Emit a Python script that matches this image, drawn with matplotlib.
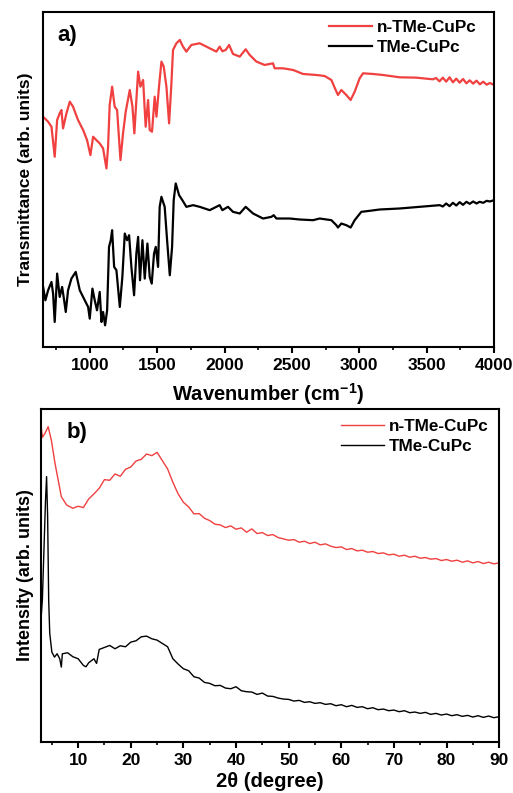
import matplotlib.pyplot as plt
import numpy as np

plt.rcParams['font.family'] = ['Liberation Sans', 'DejaVu Sans']
plt.rcParams['font.weight'] = 'bold'
plt.rcParams['mathtext.fontset'] = 'custom'
plt.rcParams['mathtext.bf'] = 'Liberation Sans:bold'
plt.rcParams['mathtext.rm'] = 'Liberation Sans:bold'
plt.rcParams['mathtext.default'] = 'bf'

RED = '#F04040'

# ---- a) FTIR ----------------------------------------------------------------
ir_red_wn = [654, 691, 716, 740, 758, 777, 790, 802, 827, 852, 876, 913, 951, 980,
             1005, 1025, 1049, 1074, 1099, 1124, 1136, 1148, 1166, 1185, 1203, 1228,
             1247, 1267, 1297, 1317, 1331, 1346, 1359, 1376, 1396, 1415, 1433, 1445,
             1462, 1482, 1495, 1514, 1532, 1549, 1569, 1589, 1606, 1618, 1643, 1668,
             1692, 1717, 1754, 1816, 1890, 1940, 1964, 1984, 2009, 2034, 2063, 2113,
             2157, 2187, 2237, 2298, 2360, 2372, 2434, 2509, 2583, 2682, 2743, 2793,
             2825, 2842, 2867, 2904, 2936, 2966, 3003, 3028, 3102, 3176, 3300, 3423,
             3547, 3570, 3595, 3620, 3645, 3670, 3695, 3720, 3745, 3770, 3795, 3820,
             3845, 3870, 3895, 3920, 3945, 3970, 4000]
ir_red_t = [69.0, 67.5, 66.0, 57.0, 68.0, 70.0, 71.0, 65.5, 70.0, 73.5, 72.0, 68.0, 65.0, 62.0,
            57.5, 63.0, 62.0, 61.0, 59.5, 53.5, 60.0, 72.5, 78.0, 72.0, 71.0, 56.0,
            64.0, 70.5, 77.0, 72.0, 64.0, 74.0, 82.5, 78.0, 80.0, 66.0, 74.0, 65.0,
            64.5, 75.0, 69.0, 78.0, 85.5, 84.0, 78.0, 67.0, 79.0, 89.0, 91.0, 92.0,
            90.0, 88.5, 90.5, 91.0, 89.5, 88.5, 90.0, 88.6, 89.0, 90.5, 87.8, 87.0,
            89.2, 87.5, 85.5, 84.5, 85.0, 83.5, 83.5, 83.0, 81.8, 81.5, 81.2, 80.0,
            77.0, 75.5, 77.0, 75.5, 74.0, 76.5, 80.5, 82.0, 81.8, 81.5, 80.8, 80.7,
            80.2, 80.6, 79.6, 80.7, 79.5, 80.8, 79.3, 80.4, 79.2, 80.3, 79.0, 79.9,
            78.9, 79.8, 78.7, 79.5, 78.6, 79.1, 78.5]

ir_blk_wn = [654, 671, 691, 716, 728, 740, 758, 777, 795, 810, 822, 839, 864, 896, 926,
             963, 988, 1000, 1020, 1037, 1054, 1074, 1087, 1099, 1114, 1129, 1143, 1156,
             1166, 1181, 1198, 1223, 1242, 1260, 1277, 1292, 1309, 1329, 1346, 1359,
             1373, 1391, 1408, 1428, 1445, 1460, 1477, 1490, 1507, 1519, 1532, 1556,
             1574, 1594, 1611, 1623, 1638, 1663, 1687, 1717, 1767, 1816, 1890, 1964,
             1984, 2026, 2063, 2113, 2157, 2212, 2286, 2348, 2365, 2385, 2484, 2558,
             2657, 2706, 2793, 2830, 2842, 2867, 2904, 2936, 2966, 3015, 3077, 3151,
             3300, 3448, 3597, 3620, 3645, 3670, 3695, 3720, 3745, 3770, 3795, 3820,
             3845, 3870, 3893, 3920, 3945, 3970, 4000]
ir_blk_t = [18.0, 14.0, 17.0, 19.5, 16.0, 7.5, 22.0, 15.0, 18.0, 14.0, 10.5, 17.0, 20.5, 22.5, 17.0,
            14.0, 12.0, 8.5, 17.5, 14.0, 11.0, 16.5, 7.5, 10.5, 6.5, 11.0, 30.0, 32.0,
            35.0, 24.0, 23.0, 12.0, 21.0, 34.0, 32.0, 33.5, 24.0, 15.5, 28.0, 33.0,
            20.0, 32.0, 20.5, 31.0, 21.0, 19.0, 28.0, 30.0, 24.0, 42.0, 45.0, 42.0,
            32.0, 21.5, 30.0, 44.0, 49.0, 45.5, 44.0, 42.0, 42.5, 42.0, 41.0, 42.5,
            41.0, 42.0, 40.5, 40.0, 42.0, 40.0, 38.5, 39.0, 39.5, 38.5, 38.5, 38.2,
            38.0, 38.5, 38.0, 36.5, 35.8, 37.0, 36.5, 35.8, 38.0, 40.5, 40.8, 41.2,
            41.5, 42.0, 42.5, 42.1, 43.0, 42.2, 43.2, 42.4, 43.4, 42.6, 43.5, 42.9,
            43.6, 43.0, 43.5, 43.2, 43.8, 43.6, 44.0]

# ---- b) XRD -----------------------------------------------------------------
xrd_red_2t = [2.9, 3.2, 3.7, 4.3, 4.9, 5.6, 6.2, 6.8, 7.8, 8, 9, 10, 11, 12, 13, 14, 15,
              16, 17, 18, 19, 20, 21, 22, 23, 24, 25, 26, 27, 28, 29, 30, 31, 32, 33,
              34, 35, 36, 37, 38, 39, 40, 41, 42, 43, 44, 45, 46, 47, 48, 49, 50, 51,
              52, 53, 54, 55, 56, 57, 58, 59, 60, 61, 62, 63, 64, 65, 66, 67, 68, 69,
              70, 71, 72, 73, 74, 75, 76, 77, 78, 79, 80, 81, 82, 83, 84, 85, 86, 87,
              88, 89, 90]
xrd_red_i = [96.0, 91.5, 92.7, 94.7, 90.7, 83.7, 78.7, 73.7, 71.2, 71.0, 70.2, 70.8, 70.4,
             73.0, 74.5, 76.2, 78.8, 78.6, 80.5, 79.8, 81.9, 82.6, 84.4, 84.9, 86.5, 86.0,
             87.0, 84.5, 82.0, 78.0, 74.5, 72.0, 70.6, 68.5, 68.6, 67.2, 66.5, 65.4, 65.2,
             64.4, 64.9, 63.9, 64.3, 63.0, 64.0, 62.6, 62.9, 62.0, 62.3, 61.4, 61.0, 60.6,
             60.8, 60.0, 60.3, 59.6, 60.0, 59.2, 59.5, 58.8, 58.4, 58.6, 57.8, 58.1, 57.4,
             57.6, 57.0, 57.2, 56.6, 56.8, 56.2, 56.4, 55.8, 56.1, 55.5, 55.8, 55.2, 55.4,
             54.9, 55.1, 54.5, 54.8, 54.3, 54.6, 54.0, 54.4, 53.8, 54.2, 53.6, 54.0, 53.5,
             53.8]

xrd_blk_2t = [2.85, 3.2, 3.5, 3.8, 4.0, 4.2, 4.4, 4.6, 5.0, 5.5, 6.0, 6.5, 6.8, 7, 8, 9,
              10, 11, 11.5, 12, 13, 13.5, 14, 15, 16, 17, 18, 19, 20, 21, 22, 23, 24, 25,
              26, 27, 28, 29, 30, 31, 32, 33, 34, 35, 36, 37, 38, 39, 40, 41, 42, 43, 44,
              45, 46, 47, 48, 49, 50, 51, 52, 53, 54, 55, 56, 57, 58, 59, 60, 61, 62, 63,
              64, 65, 66, 67, 68, 69, 70, 71, 72, 73, 74, 75, 76, 77, 78, 79, 80, 81, 82,
              83, 84, 85, 86, 87, 88, 89, 90]
xrd_blk_i = [34.7, 42.7, 57.7, 72.7, 79.7, 67.7, 42.7, 32.7, 27.0, 25.5, 26.5, 25.0, 22.5,
             26.5, 26.8, 25.6, 25.0, 23.0, 22.6, 23.8, 25.0, 23.6, 27.8, 28.4, 29.0, 28.0,
             28.9, 28.6, 30.0, 30.4, 31.6, 31.8, 31.0, 30.6, 29.6, 28.6, 25.0, 23.4, 22.0,
             21.4, 19.6, 19.2, 17.9, 17.6, 16.9, 17.0, 16.2, 16.0, 16.6, 15.4, 15.1, 15.0,
             14.3, 14.7, 13.8, 13.7, 13.2, 12.9, 12.8, 12.3, 12.5, 11.9, 12.1, 11.6, 11.8,
             11.3, 11.5, 10.9, 11.2, 10.6, 11.0, 10.4, 10.6, 10.0, 10.3, 9.7, 9.9, 9.4,
             9.6, 9.1, 9.4, 8.8, 9.0, 8.6, 8.9, 8.3, 8.6, 8.1, 8.4, 7.9, 8.2, 7.7, 8.0,
             7.5, 7.9, 7.4, 7.8, 7.3, 7.6]

fig = plt.figure(figsize=(5.13, 7.93), dpi=100)
ax1 = fig.add_axes([0.083, 0.5624, 0.880, 0.4226])
ax2 = fig.add_axes([0.079, 0.0643, 0.894, 0.4199])

ax1.plot(ir_red_wn, ir_red_t, color=RED, lw=1.6, label='n-TMe-CuPc')
ax1.plot(ir_blk_wn, ir_blk_t, color='black', lw=1.6, label='TMe-CuPc')
ax1.set_xlim(650, 4000)
ax1.set_ylim(0, 100.4)
ax1.set_xticks(np.arange(1000, 4001, 500))
ax1.set_xticks(np.arange(750, 4000, 500), minor=True)
ax1.set_xlabel('Wavenumber (cm$^{-1}$)', fontsize=14.5, fontweight='bold', labelpad=6)
ax1.set_ylabel('Transmittance (arb. units)', fontsize=12.5, fontweight='bold', labelpad=7)
ax1.text(0.033, 0.93, 'a)', transform=ax1.transAxes, fontsize=16, fontweight='bold',
         va='center')
ax1.legend(loc='upper right', frameon=False, fontsize=12.3, handlelength=2.5,
           handletextpad=0.3, borderaxespad=0.2, labelspacing=0.25,
           bbox_to_anchor=(0.985, 1.005))

ax2.plot(xrd_red_2t, xrd_red_i, color=RED, lw=1.0, label='n-TMe-CuPc')
ax2.plot(xrd_blk_2t, xrd_blk_i, color='black', lw=1.0, label='TMe-CuPc')
ax2.set_xlim(2.85, 90)
ax2.set_ylim(0, 100)
ax2.set_xticks(np.arange(10, 91, 10))
ax2.set_xticks(np.arange(5, 90, 10), minor=True)
ax2.set_xlabel('2θ (degree)', fontsize=14.5, fontweight='bold', labelpad=3)
ax2.set_ylabel('Intensity (arb. units)', fontsize=13, fontweight='bold', labelpad=5)
ax2.text(0.057, 0.93, 'b)', transform=ax2.transAxes, fontsize=16, fontweight='bold',
         va='center')
ax2.legend(loc='upper right', frameon=False, fontsize=12.3, handlelength=2.5,
           handletextpad=0.3, borderaxespad=0.2, labelspacing=0.25,
           bbox_to_anchor=(1.0, 1.0))

for ax in (ax1, ax2):
    ax.set_yticks([])
    for s in ax.spines.values():
        s.set_linewidth(1.5)
    ax.tick_params(axis='x', which='major', direction='out', length=4, width=1.5,
                   labelsize=12.5, pad=4)
    ax.tick_params(axis='x', which='minor', direction='out', length=2.5, width=1.2)
    for lab in ax.get_xticklabels():
        lab.set_fontweight('bold')

fig.savefig('out.png', dpi=100)
